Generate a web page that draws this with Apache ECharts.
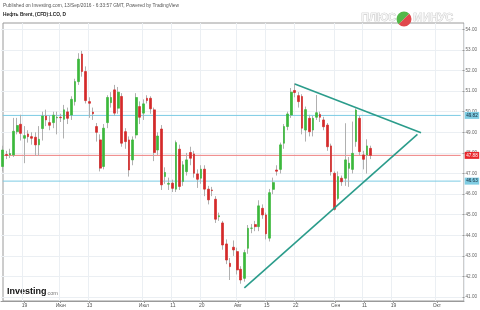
<!DOCTYPE html>
<html><head><meta charset="utf-8">
<script src="https://cdn.jsdelivr.net/npm/echarts@6/dist/echarts.min.js"></script>
<style>html,body{margin:0;padding:0;background:#fff}#c{width:480px;height:310px}</style>
</head><body><div id="c"></div>
<script>
// ---- data (daily candles) ----
const opens  = [47.34,47.92,47.90,47.90,49.03,49.39,48.71,48.92,48.79,48.76,48.39,49.18,49.79,49.47,49.47,49.70,49.73,49.63,49.99,49.84,50.49,51.46,52.80,51.95,50.49,49.98,49.28,48.63,47.34,49.47,50.44,51.06,50.17,50.74,49.03,48.63,47.66,48.87,50.25,49.93,50.65,50.65,50.09,48.14,
  49.16,46.85,46.48,46.53,46.24,48.18,46.61,47.09,48.02,47.95,46.98,46.77,47.21,46.24,46.20,45.75,44.90,44.60,43.58,42.64,43.42,43.21,42.35,41.91,43.37,44.34,44.52,44.42,45.31,44.99,43.86,46.23,47.17,47.20,48.47,49.28,49.84,51.03,50.78,50.74,49.11,
  49.68,49.11,49.73,49.87,49.60,49.35,48.34,47.01,45.79,46.77,46.77,47.25,47.20,48.55,49.68,47.90,47.90,48.22];
const closes = [48.14,47.88,47.97,49.05,49.33,48.95,48.84,48.79,48.71,48.39,48.66,49.79,49.60,49.34,49.83,49.73,49.71,50.09,49.68,50.60,51.46,52.55,51.95,50.54,50.41,49.90,49.00,47.26,49.20,50.69,50.69,49.93,50.95,48.47,48.55,47.17,48.63,50.69,49.73,50.38,50.54,50.14,48.02,48.82,
  46.45,47.05,46.52,46.28,48.50,46.37,47.42,47.66,47.74,47.01,46.72,47.21,46.24,45.72,46.17,44.78,44.95,43.53,42.80,42.48,43.29,42.32,41.83,43.16,44.34,44.35,44.42,45.43,44.99,44.07,46.07,46.56,47.11,48.39,49.28,49.89,50.95,50.93,50.49,49.20,50.10,
  49.03,49.68,49.95,49.73,49.27,48.30,47.09,45.26,46.85,46.60,47.66,47.50,47.98,50.08,48.06,47.69,48.34,47.88];
const lows   = [47.10,47.70,47.75,47.80,48.90,48.60,47.50,48.50,48.40,47.85,47.85,48.60,49.30,49.10,49.20,48.90,49.50,48.70,49.40,49.60,50.30,51.30,51.70,50.40,49.70,49.60,48.55,47.10,47.20,49.20,50.20,49.80,49.90,48.30,48.20,46.85,47.40,48.70,49.40,49.60,50.40,49.90,47.60,47.90,
  46.20,46.50,46.20,46.10,46.10,46.20,46.40,46.90,47.40,46.80,46.30,46.50,45.90,45.50,45.90,44.60,44.70,43.30,42.60,41.83,43.00,42.10,41.65,41.75,43.10,44.10,44.20,44.20,44.80,43.80,43.70,46.00,46.90,47.00,48.20,49.10,49.70,50.70,50.20,48.90,48.55,
  48.80,48.80,49.60,49.50,49.10,48.10,46.90,45.20,45.70,46.40,46.40,46.35,47.00,48.30,47.90,47.20,47.00,47.70];
const highs  = [48.35,48.10,48.20,49.70,49.70,49.85,49.30,49.10,49.00,49.00,49.30,50.00,50.10,49.80,50.00,50.00,49.90,50.33,50.20,50.75,51.60,52.84,52.95,52.20,50.70,50.20,49.45,48.90,49.40,50.80,50.95,51.30,51.20,50.90,49.20,48.80,48.80,50.90,50.50,50.60,50.80,50.75,50.20,49.00,
  49.35,47.30,46.80,46.70,48.60,48.40,47.60,48.00,48.30,48.10,47.20,47.40,47.40,46.40,46.35,45.90,45.10,44.70,43.80,42.90,43.75,43.40,42.50,43.30,44.50,44.55,44.70,45.70,45.50,45.10,46.25,46.80,47.40,48.50,49.40,50.00,51.15,51.38,50.95,50.85,50.25,
  49.85,49.80,50.81,50.00,49.75,49.45,48.45,47.10,47.10,46.90,49.44,47.80,49.52,50.16,49.80,48.10,48.66,48.35];
const levelValues = [49.82, 47.88, 46.63];
const tickIndex = [6, 16, 24, 39, 47, 55, 65, 73, 81, 92, 100, 108, 120];
const tickText  = ['19', 'Июн', '13', 'Июл', '11', '20', 'Авг', '15', '22', 'Сен', '11', '19', 'Окт'];
const upperTrend = [[81, 51.34], [116, 48.98]];
const lowerTrend = [[67, 41.45], [115, 48.90]];
const slotCount = 128; // trading-day slots incl. empty future space
// ------------------------------------------------------

const categories = Array.from({length: slotCount}, (_, i) => String(i));
const wickData = opens.map((o, i) => [o, closes[i], lows[i], highs[i]]);
const bodyData = opens.map((o, i) => [o, closes[i], Math.min(o, closes[i]), Math.max(o, closes[i])]);
const isTick = (i) => tickIndex.indexOf(i) >= 0;

const UP = '#3cb83c', DOWN = '#d42a2a', WICK = '#b0b0b0', CYAN = '#7ccbe4', CYANBG = '#7fcde3', PINK = '#ee8080', TEAL = '#2b9c8b';
function levelLine(value, color, bg, txt) {
  return {
    type: 'line', xAxisIndex: 0, yAxisIndex: 0, silent: true, z: 1,
    data: [[0, value], [slotCount - 1, value]],
    symbol: 'none', showSymbol: false,
    lineStyle: {color: color, width: 1, type: 'solid'},
    itemStyle: {color: color},
    endLabel: {show: true, formatter: value.toFixed(2), backgroundColor: bg, color: txt,
               fontSize: 4.6, padding: [1, 1.5], distance: 4, fontFamily: 'Arial'}
  };
}
function trendLine(pts) {
  return {
    type: 'line', xAxisIndex: 0, yAxisIndex: 0, silent: true, z: 4,
    data: pts, symbol: 'none', showSymbol: false,
    lineStyle: {color: TEAL, width: 1.6, type: 'solid'}, itemStyle: {color: TEAL}
  };
}

const chart = echarts.init(document.getElementById('c'), null, {renderer: 'canvas'});
chart.setOption({
  animation: false,
  grid: [
    {left: 1, right: 16, top: 29.3, bottom: 12.9},
    {left: 1, right: 16, top: 23, bottom: 9}
  ],
  xAxis: [
    {type: 'category', gridIndex: 0, data: categories, boundaryGap: true, show: false},
    {type: 'category', gridIndex: 1, data: categories, boundaryGap: true,
     axisLine: {show: true, lineStyle: {color: '#9a9a9a'}},
     axisTick: {show: true, interval: (i) => isTick(i), alignWithLabel: true, length: 2, lineStyle: {color: '#999'}},
     axisLabel: {interval: (i) => isTick(i), formatter: (v, i) => tickText[tickIndex.indexOf(Number(v))] || '',
                 fontSize: 5, color: '#555', margin: 2, fontFamily: 'Arial'},
     splitLine: {show: true, interval: (i) => isTick(i), lineStyle: {color: '#ebeff3', width: 1}}}
  ],
  yAxis: [
    {type: 'value', gridIndex: 0, position: 'right', min: 41, max: 54, interval: 1,
     axisLine: {show: false},
     axisTick: {show: true, length: 2, lineStyle: {color: '#999'}},
     axisLabel: {formatter: (v) => v.toFixed(2), fontSize: 4.6, color: '#666', margin: 3, fontFamily: 'Arial'},
     splitLine: {show: true, lineStyle: {color: '#ebeff3', width: 1}}},
    {type: 'value', gridIndex: 1, show: false, position: 'right'}
  ],
  graphic: [
    {type: 'rect', shape: {x: 3, y: 23, width: 461, height: 278}, style: {fill: 'none', stroke: '#9a9a9a', lineWidth: 1}, silent: true, z: 0},
    {type: 'text', left: 3, top: 3, style: {text: 'Published on Investing.com, 13/Sep/2016 - 6:33:57 GMT, Powered by TradingView', font: '4.8px Arial', fill: '#555'}},
    {type: 'text', left: 3, top: 12.5, style: {text: 'Нефть Brent, (CFD):LCO, D', font: 'bold 4.8px Arial', fill: '#222'}},
    {type: 'text', left: 361, top: 12, style: {text: 'ПЛЮС', font: 'bold 11px Arial', fill: '#f4f4f4', stroke: '#b8b8b8', lineWidth: 0.6}},
    {type: 'sector', shape: {cx: 404, cy: 19, r: 7.5, startAngle: Math.PI * 0.75, endAngle: Math.PI * 1.75}, style: {fill: '#52b848'}},
    {type: 'sector', shape: {cx: 404, cy: 19, r: 7.5, startAngle: -Math.PI * 0.25, endAngle: Math.PI * 0.75}, style: {fill: '#e0474c'}},
    {type: 'text', left: 413, top: 12, style: {text: 'МИНУС', font: 'bold 11px Arial', fill: '#f4f4f4', stroke: '#b8b8b8', lineWidth: 0.6}},
    {type: 'text', left: 7, top: 287, style: {text: 'Investing', font: 'bold 9px Arial', fill: '#111'}},
    {type: 'text', left: 47.5, top: 290.5, style: {text: 'com', font: '5.5px Arial', fill: '#777'}}
  ],
  series: [
    levelLine(levelValues[0], CYAN, CYANBG, '#123'),
    levelLine(levelValues[1], PINK, '#e8262b', '#fff'),
    levelLine(levelValues[2], CYAN, CYANBG, '#123'),
    {type: 'candlestick', xAxisIndex: 0, yAxisIndex: 0, data: wickData, barWidth: 0.2,
     itemStyle: {color: WICK, color0: WICK, borderColor: WICK, borderColor0: WICK, borderWidth: 1}, z: 2},
    {type: 'candlestick', xAxisIndex: 0, yAxisIndex: 0, data: bodyData, barWidth: 2.2,
     itemStyle: {color: UP, color0: DOWN, borderColor: UP, borderColor0: DOWN, borderWidth: 0.7}, z: 3},
    trendLine(upperTrend),
    trendLine(lowerTrend)
  ]
});
</script></body></html>
